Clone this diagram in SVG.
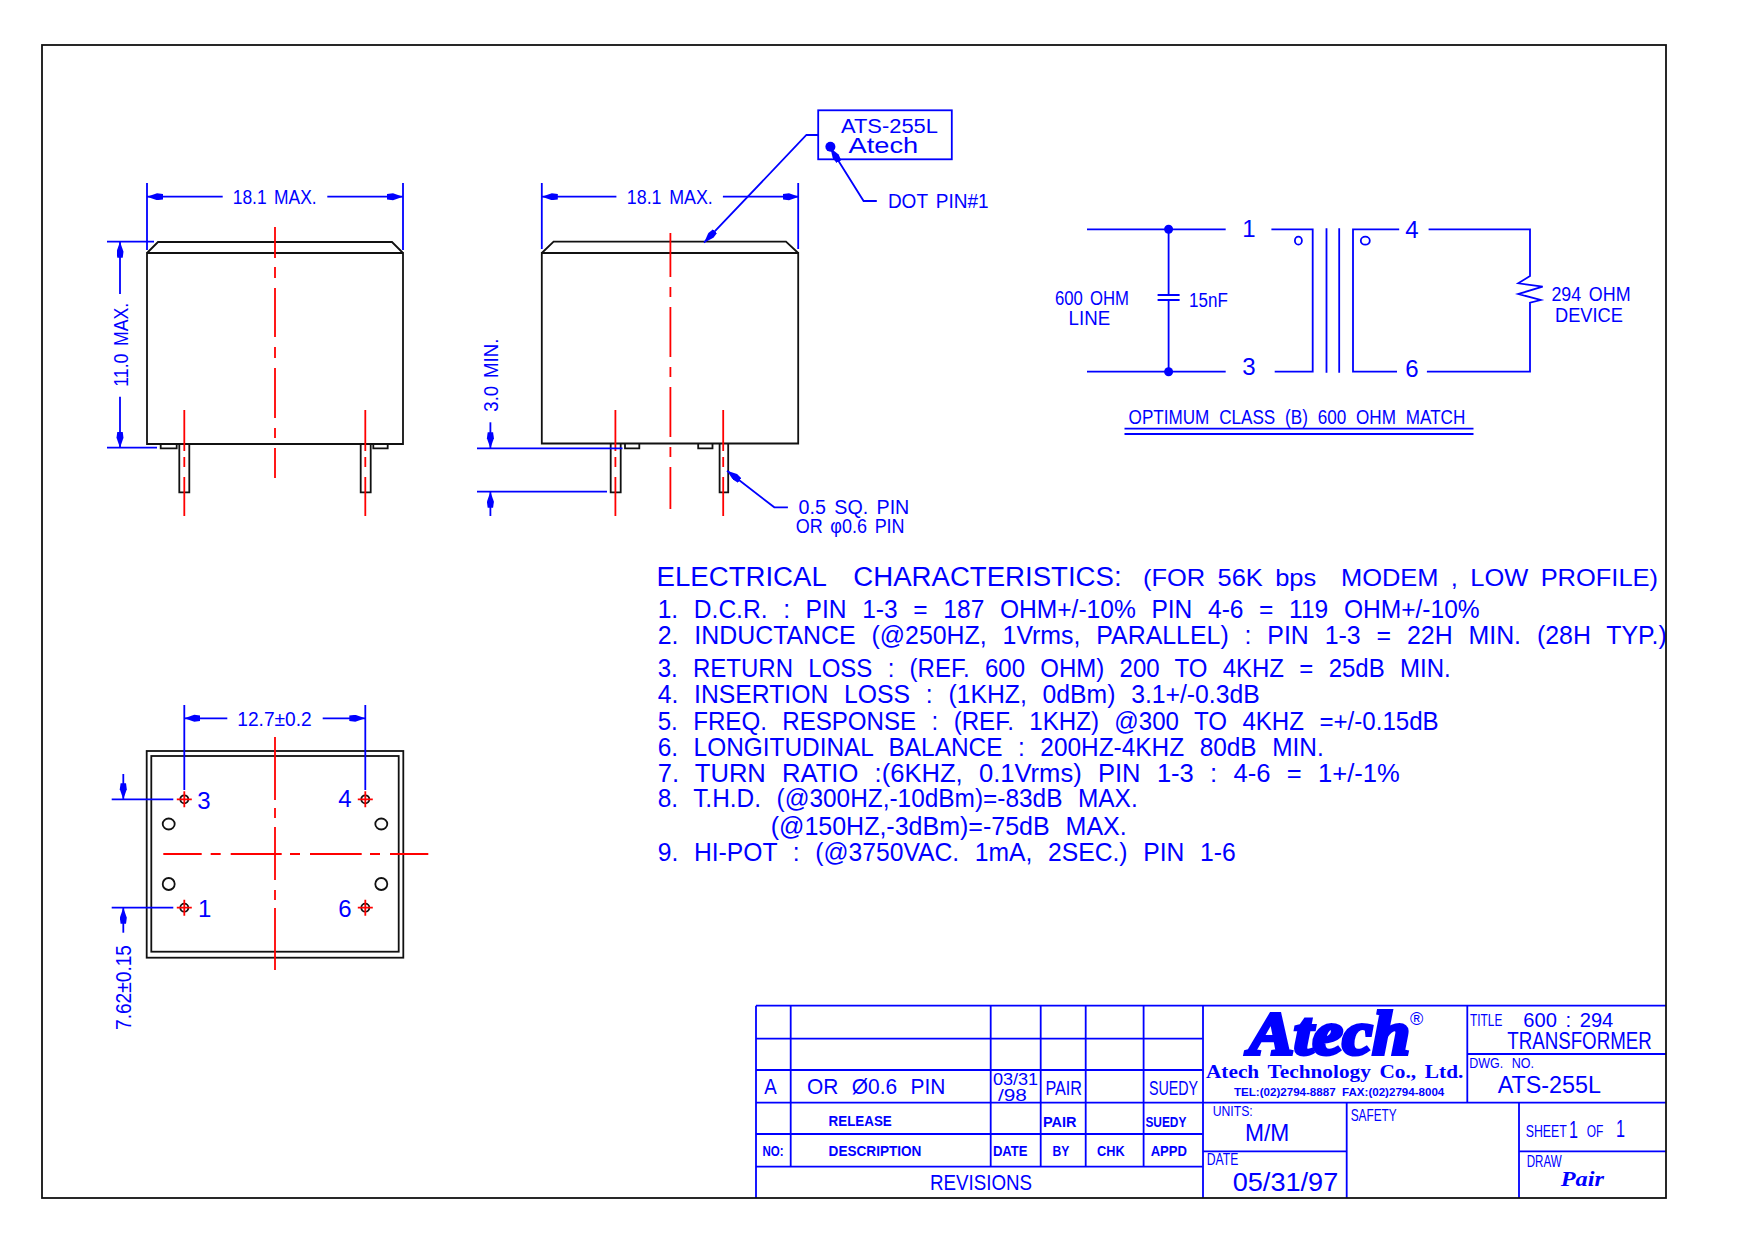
<svg xmlns="http://www.w3.org/2000/svg" width="1754" height="1242" viewBox="0 0 1754 1242">
<style>
.k{fill:none;stroke:#111;stroke-width:1.8}
.b{fill:none;stroke:#0000ff;stroke-width:1.8}
.r{fill:none;stroke:#ff0000;stroke-width:1.8}
.a{marker-end:url(#arr)}
text{font-family:"Liberation Sans",Arial,sans-serif;fill:#0000ff;white-space:pre}
.t20{font-size:20px;word-spacing:3px}
.t22{font-size:22px;word-spacing:4px}
.t24{font-size:24px}
.t25{font-size:25px;word-spacing:9px}
.t17{font-size:17px}
.t15{font-size:15px}
.sb{font-weight:bold;font-size:15px}
.s{font-family:"Liberation Serif","Times New Roman",serif;font-weight:bold}
</style>
<defs>
<marker id="arr" markerUnits="userSpaceOnUse" markerWidth="17" markerHeight="8" refX="16" refY="3.5" orient="auto" viewBox="0 0 17 8"><path d="M0 0.8 L6 0 L16 3.5 L6 7 L0 6.2Z" fill="#0000ff"/></marker>
</defs>
<rect id="sheet" x="0" y="0" width="1754" height="1242" fill="#fff"/>

<g id="side-view-left">
<path class="k" d="M147 253H403V444H147ZM147 253L158 242H392L403 253"/>
<path class="k" d="M179.3 444V492.3H189.3V444M360.7 444V492.3H370.7V444M160.7 444V448.3H176.7V444M373.3 444V448.3H387.7V444"/>
<path class="r" d="M275 227V258M275 267V278M275 288V337M275 347V358M275 368V418M275 428V438M275 448V478"/>
<path class="r" d="M184.3 410V451M184.3 457V467M184.3 477V516M365.3 410V451M365.3 457V467M365.3 477V516"/>
<path class="b" d="M147 183V250M403 183V250M107 241.7H154M107 447.7H157"/>
<path class="b a" d="M222.7 196.7H147"/>
<path class="b a" d="M327.3 196.7H403"/>
<path class="b a" d="M120 294V241.7"/>
<path class="b a" d="M120 396.7V447.7"/>
<text class="t20" x="232.7" y="204" textLength="84" lengthAdjust="spacingAndGlyphs">18.1 MAX.</text>
<text class="t20" transform="translate(128 386.7) rotate(-90)" textLength="84" lengthAdjust="spacingAndGlyphs">11.0 MAX.</text>
</g>

<g id="side-view-right">
<path class="k" d="M541.8 253H798.2V443.5H541.8ZM541.8 253L553.6 241.7H786L798.2 253"/>
<path class="k" d="M610.7 443.5V492.3H620.7V443.5M719.6 443.5V492.3H728.2V443.5M625 443.5V448.3H639.3V443.5M698.2 443.5V448.3H712.5V443.5"/>
<path class="r" d="M670.4 233V277M670.4 287V297M670.4 307V357M670.4 367V377M670.4 387V437M670.4 447V457M670.4 467V509"/>
<path class="r" d="M615.4 410V451M615.4 457V467M615.4 477V516M723.2 410V451M723.2 457V467M723.2 477V516"/>
<path class="b" d="M541.8 183V249M798.2 183V249M477 448.3H622.5M477 491.7H607"/>
<path class="b a" d="M616.4 196.7H541.8"/>
<path class="b a" d="M722.9 196.7H799"/>
<path class="b a" d="M490.4 422.3V448.3"/>
<path class="b a" d="M490.4 516V491.7"/>
<path class="b a" d="M818.2 135H806.4L704 242.7"/>
<path class="b a" d="M876.8 201H863.6L830.4 148"/>
<path class="b a" d="M787.9 507.3H774.3L727 470.7"/>
<text class="t20" x="626.8" y="204" textLength="86" lengthAdjust="spacingAndGlyphs">18.1 MAX.</text>
<text class="t20" transform="translate(497.5 411.7) rotate(-90)" textLength="73" lengthAdjust="spacingAndGlyphs">3.0 MIN.</text>
<text class="t20" x="887.9" y="208.3" textLength="100.7" lengthAdjust="spacingAndGlyphs">DOT PIN#1</text>
<text class="t20" x="798.6" y="514" textLength="110.7" lengthAdjust="spacingAndGlyphs">0.5 SQ. PIN</text>
<text class="t20" x="795.7" y="533.3" textLength="108.9" lengthAdjust="spacingAndGlyphs">OR φ0.6 PIN</text>
</g>

<g id="marking-box">
<rect class="b" x="818.2" y="110.3" width="133.6" height="49"/>
<circle cx="830.4" cy="146.7" r="5" fill="#0000ff"/>
<text class="t20" x="841" y="133.3" textLength="97" lengthAdjust="spacingAndGlyphs">ATS-255L</text>
<text class="t22" x="848.6" y="153.3" textLength="69.6" lengthAdjust="spacingAndGlyphs">Atech</text>
</g>

<g id="bottom-view">
<rect class="k" x="146.7" y="751" width="256.6" height="206.7"/>
<rect class="k" x="151.3" y="756" width="247.4" height="195.7"/>
<g class="k">
<ellipse cx="168.7" cy="824" rx="6" ry="5.5"/><ellipse cx="381.3" cy="824" rx="6" ry="5.5"/>
<ellipse cx="168.7" cy="884" rx="6" ry="6"/><ellipse cx="381.3" cy="884" rx="6" ry="6"/>
<circle cx="184.3" cy="799.3" r="4"/><circle cx="365.3" cy="799.3" r="4"/>
<circle cx="184.3" cy="907.7" r="4"/><circle cx="365.3" cy="907.7" r="4"/>
</g>
<path class="r" d="M275 737V800M275 808V818M275 827V880M275 890V900M275 908V970"/>
<path class="r" d="M163.3 854H201.7M210.7 854H220.7M230.7 854H281.7M290 854H300M310 854H361.7M370 854H380M390 854H428.3"/>
<path class="r" d="M176.8 799.3H191.8M184.3 791.3V807.3M357.8 799.3H372.8M365.3 791.3V807.3M176.8 907.7H191.8M184.3 899.7V915.7M357.8 907.7H372.8M365.3 899.7V915.7"/>
<path class="b" d="M184.3 705V790M365.3 705V790M111.7 799.3H173.3M111.7 907.7H173.3"/>
<path class="b a" d="M227.3 718.3H184.3"/>
<path class="b a" d="M322.7 718.3H365.3"/>
<path class="b a" d="M123.3 774V799.3"/>
<path class="b a" d="M123.3 932.7V907.7"/>
<text class="t20" x="237.3" y="725.7" textLength="74.4" lengthAdjust="spacingAndGlyphs">12.7±0.2</text>
<text class="t22" transform="translate(130.7 1030) rotate(-90)" textLength="85" lengthAdjust="spacingAndGlyphs">7.62±0.15</text>
<text class="t24" x="197.3" y="809.3">3</text>
<text class="t24" x="338.3" y="806.7">4</text>
<text class="t24" x="198" y="917.3">1</text>
<text class="t24" x="338.3" y="917.3">6</text>
</g>

<g id="connectors">
<path class="b" d="M1087 229.3H1225.7M1087 371.7H1225.7M1168.6 229.3V295M1168.6 300V371.7M1157.6 295H1179.6M1157.6 300H1179.6"/>
<path class="b" d="M1271.4 229.3H1312.7V371.7H1274.7M1326.5 228.3V372.7M1339.2 228.3V372.7M1399.2 229.3H1353V371.7H1397"/>
<path class="b" d="M1428.6 229.3H1530V276L1518.3 283.3L1542.7 286.7L1518.3 294L1540.7 300L1530 302.7V371.7H1426.9"/>
<path class="b" d="M1124.5 428.7H1473.5M1124.5 434H1473.5"/>
</g>
<g id="schematic">
<circle cx="1168.6" cy="229.3" r="4.5" fill="#0000ff"/>
<circle cx="1168.6" cy="371.7" r="4.5" fill="#0000ff"/>
<ellipse class="b" cx="1298.4" cy="240.7" rx="3.5" ry="4"/>
<ellipse class="b" cx="1365.3" cy="240.7" rx="4.5" ry="4"/>
<text class="t24" x="1249" y="236.7" text-anchor="middle">1</text>
<text class="t24" x="1249" y="375.3" text-anchor="middle">3</text>
<text class="t24" x="1412" y="237.7" text-anchor="middle">4</text>
<text class="t24" x="1412" y="376.7" text-anchor="middle">6</text>
<text class="t20" x="1055" y="305" textLength="74" lengthAdjust="spacingAndGlyphs">600 OHM</text>
<text class="t20" x="1068.6" y="325" textLength="41.6" lengthAdjust="spacingAndGlyphs">LINE</text>
<text class="t20" x="1189" y="306.7" textLength="38.8" lengthAdjust="spacingAndGlyphs">15nF</text>
<text class="t20" x="1551.4" y="300.7" textLength="79.2" lengthAdjust="spacingAndGlyphs">294 OHM</text>
<text class="t20" x="1555" y="322.3" textLength="67.9" lengthAdjust="spacingAndGlyphs">DEVICE</text>
<text class="t20" x="1128.6" y="424" textLength="336.7" lengthAdjust="spacingAndGlyphs" style="word-spacing:6px">OPTIMUM CLASS (B) 600 OHM MATCH</text>
</g>

<g id="electrical-characteristics">
<text x="656.6" y="586" font-size="27" style="word-spacing:6px" textLength="465" lengthAdjust="spacingAndGlyphs">ELECTRICAL  CHARACTERISTICS:</text>
<text class="t24" x="1143" y="586" style="word-spacing:5px" textLength="515" lengthAdjust="spacingAndGlyphs">(FOR 56K bps  MODEM , LOW PROFILE)</text>
<text class="t25" x="657.7" y="617.7" textLength="822" lengthAdjust="spacingAndGlyphs">1. D.C.R. : PIN 1-3 = 187 OHM+/-10% PIN 4-6 = 119 OHM+/-10%</text>
<text class="t25" x="657.7" y="644.3" textLength="1009" lengthAdjust="spacingAndGlyphs">2. INDUCTANCE (@250HZ, 1Vrms, PARALLEL) : PIN 1-3 = 22H MIN. (28H TYP.)</text>
<text class="t25" x="657.7" y="676.7" textLength="793" lengthAdjust="spacingAndGlyphs">3. RETURN LOSS : (REF. 600 OHM) 200 TO 4KHZ = 25dB MIN.</text>
<text class="t25" x="657.7" y="703.3" textLength="602" lengthAdjust="spacingAndGlyphs">4. INSERTION LOSS : (1KHZ, 0dBm) 3.1+/-0.3dB</text>
<text class="t25" x="657.7" y="730" textLength="781" lengthAdjust="spacingAndGlyphs">5. FREQ. RESPONSE : (REF. 1KHZ) @300 TO 4KHZ =+/-0.15dB</text>
<text class="t25" x="657.7" y="755.7" textLength="666" lengthAdjust="spacingAndGlyphs">6. LONGITUDINAL BALANCE : 200HZ-4KHZ 80dB MIN.</text>
<text class="t25" x="657.7" y="781.7" textLength="742" lengthAdjust="spacingAndGlyphs">7. TURN RATIO :(6KHZ, 0.1Vrms) PIN 1-3 : 4-6 = 1+/-1%</text>
<text class="t25" x="657.7" y="806.7" textLength="480" lengthAdjust="spacingAndGlyphs">8. T.H.D. (@300HZ,-10dBm)=-83dB MAX.</text>
<text class="t25" x="770.7" y="835" textLength="356" lengthAdjust="spacingAndGlyphs">(@150HZ,-3dBm)=-75dB MAX.</text>
<text class="t25" x="657.7" y="861" textLength="578" lengthAdjust="spacingAndGlyphs">9. HI-POT : (@3750VAC. 1mA, 2SEC.) PIN 1-6</text>
</g>

<g id="title-block">
<path class="b" d="M756 1005.7H1666M756 1038.7H1202.7M756 1070H1202.7M756 1102.7H1666M756 1134H1202.7M756 1166.7H1202.7M1467.3 1054H1666M1202.7 1151.3H1346.7M1519 1151.3H1666"/>
<path class="b" d="M756 1005.7V1198M790.7 1005.7V1166.7M990.7 1005.7V1166.7M1040.7 1005.7V1166.7M1085.7 1005.7V1166.7M1143.6 1005.7V1166.7M1203 1005.7V1198M1467.3 1005.7V1102.7M1346.7 1102.7V1198M1519 1102.7V1198"/>
<text class="t22" x="764.3" y="1094" textLength="12.5" lengthAdjust="spacingAndGlyphs">A</text>
<text class="t22" x="807" y="1094" textLength="138.4" lengthAdjust="spacingAndGlyphs" style="word-spacing:8px">OR Ø0.6 PIN</text>
<text class="t17" x="992.9" y="1085" textLength="45.3" lengthAdjust="spacingAndGlyphs">03/31</text>
<text class="t17" x="997.9" y="1100.7" textLength="28.9" lengthAdjust="spacingAndGlyphs">/98</text>
<text class="t20" x="1045.4" y="1095" textLength="36.6" lengthAdjust="spacingAndGlyphs">PAIR</text>
<text class="t20" x="1148.9" y="1095" textLength="49.1" lengthAdjust="spacingAndGlyphs">SUEDY</text>
<text class="sb" x="828.6" y="1125.7" textLength="63.2" lengthAdjust="spacingAndGlyphs">RELEASE</text>
<text class="sb" x="1042.9" y="1127.3" textLength="33.5" lengthAdjust="spacingAndGlyphs">PAIR</text>
<text class="sb" x="1145.4" y="1127.3" textLength="41" lengthAdjust="spacingAndGlyphs">SUEDY</text>
<text class="sb" x="762.5" y="1155.7" textLength="21.1" lengthAdjust="spacingAndGlyphs">NO:</text>
<text class="sb" x="828.6" y="1155.7" textLength="92.8" lengthAdjust="spacingAndGlyphs">DESCRIPTION</text>
<text class="sb" x="992.9" y="1155.7" textLength="34.6" lengthAdjust="spacingAndGlyphs">DATE</text>
<text class="sb" x="1052.5" y="1155.7" textLength="16.8" lengthAdjust="spacingAndGlyphs">BY</text>
<text class="sb" x="1097" y="1155.7" textLength="27.6" lengthAdjust="spacingAndGlyphs">CHK</text>
<text class="sb" x="1150.7" y="1155.7" textLength="36.3" lengthAdjust="spacingAndGlyphs">APPD</text>
<text class="t22" x="930" y="1190" textLength="102" lengthAdjust="spacingAndGlyphs">REVISIONS</text>
<text class="s" x="1249" y="1054" font-size="62" font-style="italic" stroke="#0000ff" stroke-width="4" textLength="161" lengthAdjust="spacingAndGlyphs">Atech</text>
<text x="1416.7" y="1025" font-size="18" text-anchor="middle">®</text>
<text class="s" x="1206" y="1078.3" font-size="19" style="word-spacing:3px" textLength="257.3" lengthAdjust="spacingAndGlyphs">Atech Technology Co., Ltd.</text>
<text x="1234" y="1095.7" font-size="11" font-weight="bold" textLength="210.3" lengthAdjust="spacingAndGlyphs">TEL:(02)2794-8887  FAX:(02)2794-8004</text>
<text class="t17" x="1470" y="1025.7" textLength="32.3" lengthAdjust="spacingAndGlyphs">TITLE</text>
<text class="t20" x="1523.3" y="1026.7" textLength="90" lengthAdjust="spacingAndGlyphs">600 : 294</text>
<text class="t24" x="1507.3" y="1048.7" textLength="144.4" lengthAdjust="spacingAndGlyphs">TRANSFORMER</text>
<text class="t15" x="1469.3" y="1068" textLength="64.7" lengthAdjust="spacingAndGlyphs" style="word-spacing:6px">DWG. NO.</text>
<text class="t24" x="1497.7" y="1092.7" textLength="103.3" lengthAdjust="spacingAndGlyphs">ATS-255L</text>
<text class="t15" x="1212.7" y="1116" textLength="40" lengthAdjust="spacingAndGlyphs">UNITS:</text>
<text class="t24" x="1245" y="1140.7" textLength="44.3" lengthAdjust="spacingAndGlyphs">M/M</text>
<text class="t17" x="1206.7" y="1165" textLength="31.6" lengthAdjust="spacingAndGlyphs">DATE</text>
<text class="t25" x="1232.7" y="1190.7" textLength="105.6" lengthAdjust="spacingAndGlyphs">05/31/97</text>
<text class="t17" x="1350.7" y="1120.7" textLength="46" lengthAdjust="spacingAndGlyphs">SAFETY</text>
<text class="t17" x="1525.7" y="1136.7" textLength="41" lengthAdjust="spacingAndGlyphs">SHEET</text>
<text class="t24" x="1569" y="1138.3" textLength="9" lengthAdjust="spacingAndGlyphs">1</text>
<text class="t17" x="1586.7" y="1136.7" textLength="16.6" lengthAdjust="spacingAndGlyphs">OF</text>
<text class="t24" x="1616" y="1137" textLength="9" lengthAdjust="spacingAndGlyphs">1</text>
<text class="t17" x="1526.7" y="1167.3" textLength="35" lengthAdjust="spacingAndGlyphs">DRAW</text>
<text class="s" x="1560.7" y="1186" font-size="20" font-style="italic" textLength="43.3" lengthAdjust="spacingAndGlyphs">Pair</text>
</g>

<rect id="frame" x="42" y="45" width="1624" height="1153" fill="none" stroke="#111" stroke-width="1.8"/>
</svg>
